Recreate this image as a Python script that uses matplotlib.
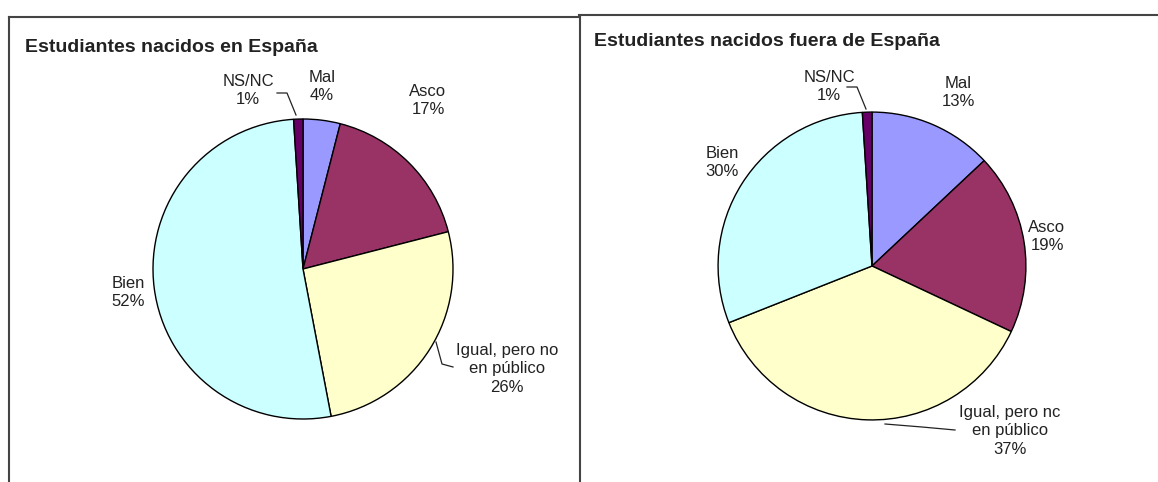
import matplotlib.pyplot as plt
from matplotlib.lines import Line2D

plt.rcParams['font.family'] = ['Liberation Sans', 'DejaVu Sans']

W, H = 1158, 482

# data (clockwise from the top)
categories = ['Mal', 'Asco', 'Igual, pero no\nen público', 'Bien', 'NS/NC']
spain = [4, 17, 26, 52, 1]
abroad = [13, 19, 37, 30, 1]
colors = ['#9999FF', '#993366', '#FFFFCC', '#CCFFFF', '#660066']

titles = ['Estudiantes nacidos en España', 'Estudiantes nacidos fuera de España']


def px(x, y):
    # figure pixel -> figure fraction
    return x / W, 1 - y / H


fig = plt.figure(figsize=(W / 100, H / 100), dpi=100)

# panel frames (only top/left/right edges visible in the crop)
frame_kw = dict(color='#444444', lw=1.5, transform=fig.transFigure)
for xs, ys in [([9, 9], [482, 17]), ([9, 580], [17, 17]), ([580, 580], [17, 482]),
               ([579, 1158], [15, 15])]:
    fig.add_artist(Line2D([x / W for x in xs], [1 - y / H for y in ys], **frame_kw))

fig.text(*px(25, 47), titles[0], fontsize=14, fontweight='bold', color='#222222', va='center')
fig.text(*px(594, 42), titles[1], fontsize=14, fontweight='bold', color='#222222', va='center')


def draw_pie(values, cx, cy, r):
    ax = fig.add_axes([(cx - r) / W, (H - cy - r) / H, 2 * r / W, 2 * r / H])
    ax.pie(values, colors=colors, startangle=90, counterclock=False, radius=1,
           wedgeprops=dict(edgecolor='black', linewidth=1.0))
    ax.set_xlim(-1.02, 1.02)
    ax.set_ylim(-1.02, 1.02)
    ax.set_aspect('equal')
    ax.axis('off')
    return ax


draw_pie(spain, 303, 269, 153)
draw_pie(abroad, 872, 266, 157)

label_kw = dict(fontsize=12, color='#222222', ha='center', va='center',
                multialignment='center', linespacing=1.25)

# label positions (pixels) for each panel, same order as categories
pos_spain = [(322, 86), (428, 101), (507, 369), (128, 293), (248, 90)]
pos_abroad = [(958, 92), (1047, 237), (1010, 431), (722, 163), (829, 86)]
names_abroad = list(categories)
names_abroad[2] = 'Igual, pero nc\nen público'

for name, v, (x, y) in zip(categories, spain, pos_spain):
    fig.text(*px(x, y), f'{name}\n{v}%', **label_kw)
for name, v, (x, y) in zip(names_abroad, abroad, pos_abroad):
    fig.text(*px(x, y), f'{name}\n{v}%', **label_kw)

# leader lines
leaders = [
    [(277, 93), (287, 93), (296, 115)],
    [(436, 342), (442, 364), (453, 367)],
    [(847, 87), (857, 87), (866, 109)],
    [(885, 424), (922, 427), (955, 430)],
]
for pts in leaders:
    fig.add_artist(Line2D([p[0] / W for p in pts], [1 - p[1] / H for p in pts],
                          color='#222222', lw=0.9, transform=fig.transFigure))

fig.savefig('out.png', dpi=100)
